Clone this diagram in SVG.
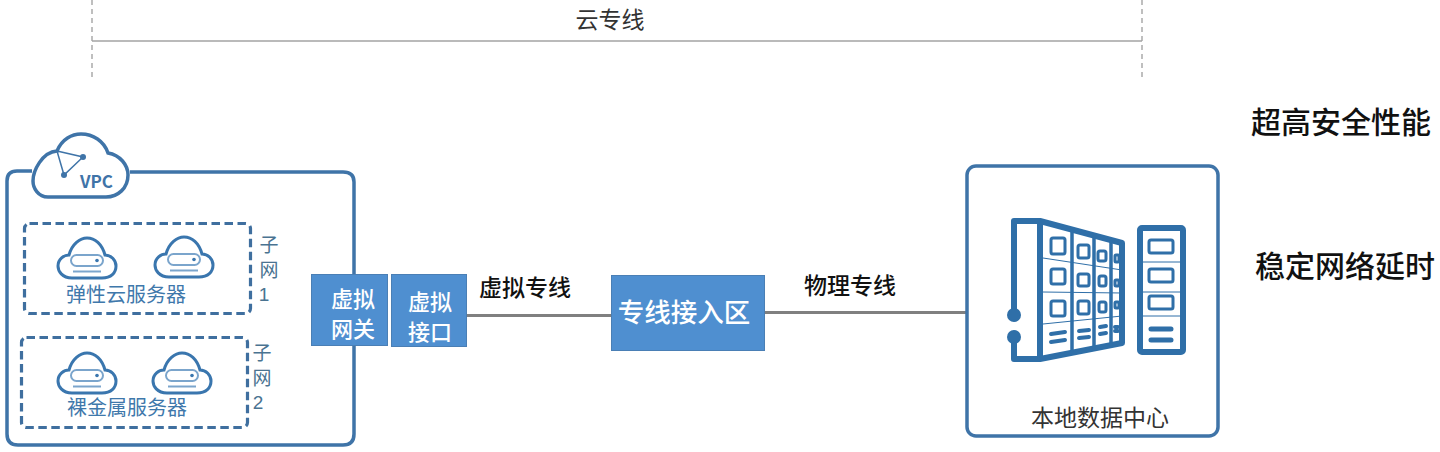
<svg xmlns="http://www.w3.org/2000/svg" width="1440" height="452" viewBox="0 0 1440 452">
<style>
text{font-family:"Noto Sans CJK SC","Noto Sans",sans-serif;text-anchor:middle}
.out{fill:none;stroke:#3f74a8;stroke-width:3.500}
.dash{fill:none;stroke:#3f6f9f;stroke-width:3.200;stroke-dasharray:8.500 4.500}
.blue{fill:#4f8fd0;stroke:#4a7fb5;stroke-width:1}
.w{fill:#fff;font-size:22px;font-weight:500}
.k{fill:#111;font-size:23px;font-weight:500}
.lab{fill:#3f78ab;font-size:20px}
.sub{fill:#4a7391;font-size:19px}
.dig{fill:#4a7391;font-size:19px;font-family:"Liberation Sans",sans-serif}
.g{fill:#333;font-size:23px}
.big{fill:#111;font-size:30px;font-weight:500}
.ic{fill:none;stroke:#3a76ae;stroke-width:3}
.ic2{fill:none;stroke:#7ba5cc;stroke-width:2}
.rk{fill:none;stroke:#2f6fa8;stroke-width:6;stroke-linejoin:round}
.rk2{fill:none;stroke:#2f6fa8;stroke-width:3;stroke-linejoin:round}
.th{stroke:#2f6fa8;stroke-width:1;fill:none}
.br{stroke:#2f6fa8;stroke-width:4;stroke-linecap:round}
</style>
<defs>
<g id="cl">
<path class="ic" d="M-15,20 C-25,20 -29,13 -29,8 C-29,1 -23,-3 -18,-3 C-15,-14 -7,-20 0,-20 C8,-20 15,-14 18,-3 C24,-3 29,2 29,8 C29,15 24,20 15,20 Z"/>
<rect class="ic2" x="-16" y="-3" width="32" height="11" rx="5.500"/>
<circle cx="10" cy="2.500" r="1.800" fill="#3a76ae"/>
<path class="ic2" d="M-14,13.500 H14"/>
</g>
</defs>
<g id="connectors">
<path d="M92,0 V78 M1142,0 V78" fill="none" stroke="#aaa" stroke-width="1.500" stroke-dasharray="5 4"/>
<path d="M92,41 H1142" fill="none" stroke="#a3a3a3" stroke-width="1.500"/>
<path d="M467,315.500 H612 M765,312.500 H967" fill="none" stroke="#808080" stroke-width="3"/>
</g>
<g id="cloud-line-label"><text class="g" x="610" y="28">云专线</text></g>
<g id="highlights">
<text class="big" x="1341" y="133">超高安全性能</text>
<text class="big" x="1345" y="277">稳定网络延时</text>
</g>
<g id="vpc">
<path class="out" d="M32,171 H17 Q7,171 7,181 V434 Q7,445 18,445 H343 Q354,445 354,434 V182 Q354,172 343,172 H130"/>
<path d="M48,197 C38,197 33,188 33,181 C33,171 42,152 57,151 C62,139 72,134 81,134 C93,134 104,141 108,153 C120,155 128,165 128,175 C128,188 118,197 106,197 Z" fill="#fff" stroke="#3f74a8" stroke-width="3.500"/>
<path d="M57,151 L83,157 L64,175 Z" fill="none" stroke="#3f74a8" stroke-width="1.500"/>
<circle cx="83" cy="157" r="3" fill="#3f74a8"/><circle cx="64" cy="175" r="3" fill="#3f74a8"/>
<text x="96.500" y="188" font-size="17" font-weight="700" fill="#3f74a8">VPC</text>
</g>
<g id="subnet1">
<rect class="dash" x="24.500" y="223.500" width="226" height="90" rx="5"/>
<use href="#cl" x="87" y="258"/><use href="#cl" x="184" y="257"/>
<text class="lab" x="126" y="302">弹性云服务器</text>
<text class="sub" x="269" y="252">子</text><text class="sub" x="269" y="277">网</text><text class="dig" x="264" y="301">1</text>
</g>
<g id="subnet2">
<rect class="dash" x="21.500" y="337.500" width="226" height="90" rx="5"/>
<use href="#cl" x="87" y="373"/><use href="#cl" x="182" y="373"/>
<text class="lab" x="127" y="415">裸金属服务器</text>
<text class="sub" x="262" y="360">子</text><text class="sub" x="262" y="385">网</text><text class="dig" x="258" y="409">2</text>
</g>
<g id="gateway">
<rect class="blue" x="311.500" y="274.500" width="76" height="71"/>
<text class="w" x="353" y="307">虚拟</text><text class="w" x="353" y="337">网关</text>
</g>
<g id="interface">
<rect class="blue" x="391.500" y="274.500" width="75" height="72"/>
<text class="w" x="430" y="310">虚拟</text><text class="w" x="430" y="340">接口</text>
</g>
<g id="vline-label"><text class="k" x="525" y="296">虚拟专线</text></g>
<g id="access">
<rect class="blue" x="611.500" y="275.500" width="153" height="75"/>
<text x="684" y="322" fill="#fff" font-size="26.500" font-weight="500">专线接入区</text>
</g>
<g id="pline-label"><text class="k" x="850" y="294">物理专线</text></g>
<g id="datacenter">
<rect class="out" x="967" y="166" width="251" height="270" rx="9"/>
<path class="rk" d="M1014,315 V221 H1040 L1122,243 V343 L1040,359 H1014 V340"/>
<path d="M1040,221 V359" stroke="#2f6fa8" stroke-width="6"/>
<circle cx="1014" cy="315" r="7" fill="#2f6fa8"/><circle cx="1014" cy="337" r="7" fill="#2f6fa8"/>
<path d="M1072,231 V352 M1094,237 V349 M1111,241 V346" stroke="#2f6fa8" stroke-width="3.500"/>
<path class="th" d="M1043,258 L1122,270 M1043,292 L1122,293 M1043,324 L1122,316"/>
<g class="rk2">
<rect x="1051" y="238" width="14" height="16" rx="2"/><rect x="1078" y="245" width="11" height="13" rx="2"/><rect x="1098" y="251" width="8" height="10" rx="2"/><rect x="1115" y="255" width="4" height="7" rx="1"/>
<rect x="1051" y="269" width="14" height="15" rx="2"/><rect x="1078" y="274" width="11" height="12" rx="2"/><rect x="1099" y="276" width="7" height="10" rx="2"/><rect x="1115" y="280" width="4" height="6" rx="1"/>
<rect x="1051" y="301" width="14" height="15" rx="2"/><rect x="1078" y="301" width="11" height="13" rx="2"/><rect x="1099" y="302" width="7" height="10" rx="2"/><rect x="1115" y="302" width="4" height="6" rx="1"/>
</g>
<path class="br" d="M1051,334 L1065,332 M1051,342 L1065,340 M1079,331 L1089,330 M1079,338 L1089,337 M1100,327 L1106,326 M1100,334 L1106,333 M1115,327 L1118,327 M1115,331 L1118,331"/>
<rect class="rk" x="1140" y="228" width="43" height="124" rx="2"/>
<path class="th" d="M1143,262 H1181 M1143,292 H1181 M1143,316 H1181"/>
<g class="rk2"><rect x="1149" y="240" width="24" height="13" rx="2"/><rect x="1149" y="269" width="24" height="13" rx="2"/><rect x="1149" y="296" width="24" height="13" rx="2"/></g>
<path stroke="#2f6fa8" stroke-width="5" stroke-linecap="round" d="M1151,329 H1171 M1151,340 H1171"/>
<text x="1100" y="426" fill="#333" font-size="23">本地数据中心</text>
</g>
</svg>
